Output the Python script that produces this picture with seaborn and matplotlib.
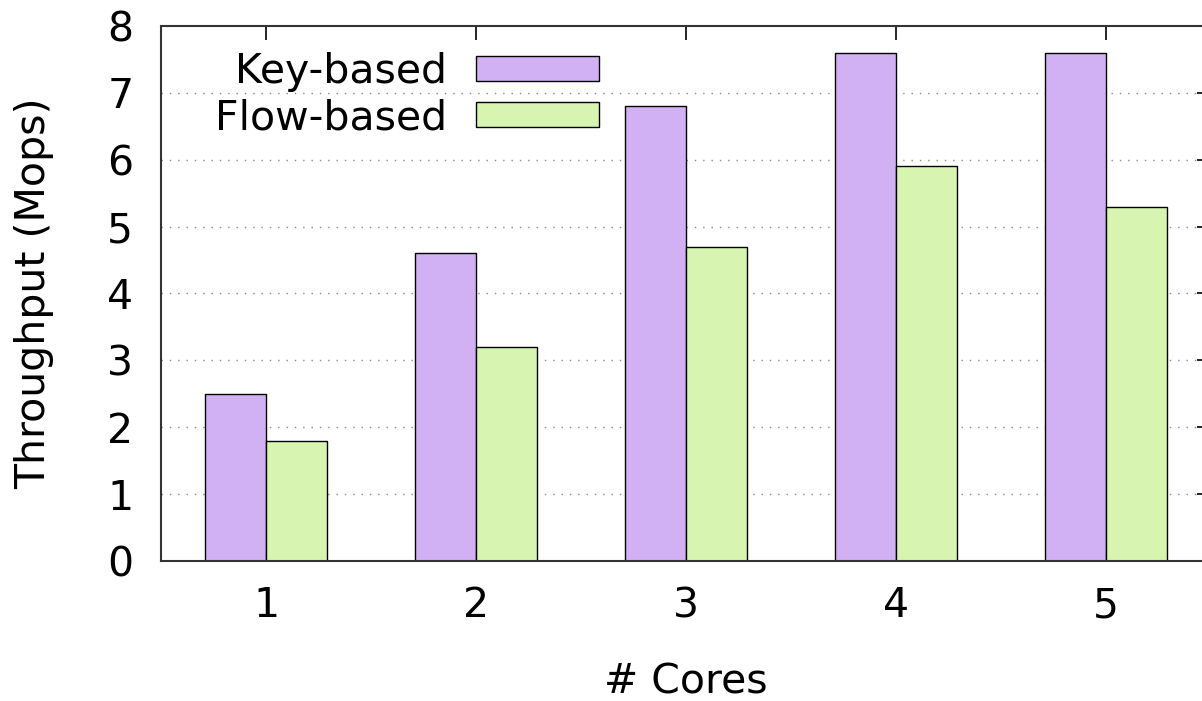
import pandas as pd
import numpy as np
import matplotlib
matplotlib.use("Agg")
import matplotlib.pyplot as plt
import seaborn as sns

# values
cores = ["1", "2", "3", "4", "5"]
key_based = [2.5, 4.6, 6.8, 7.6, 7.6]
flow_based = [1.8, 3.2, 4.7, 5.9, 5.3]
series_names = ["Key-based", "Flow-based"]
y_ticks = [0, 1, 2, 3, 4, 5, 6, 7, 8]

df = pd.DataFrame({
    "cores": cores * 2,
    "throughput": key_based + flow_based,
    "scheme": [series_names[0]] * len(cores) + [series_names[1]] * len(cores),
})

sns.set_style("white")
plt.rcParams["font.family"] = ["DejaVu Sans"]

fig = plt.figure(figsize=(12.02, 7.01), dpi=100)
ax = fig.add_axes([0.134, 0.1997, 0.8735, 0.7633])

sns.barplot(data=df, x="cores", y="throughput", hue="scheme",
            palette=["#d1b1f3", "#d7f5b0"], width=0.58, gap=0,
            edgecolor="black", linewidth=1.0, saturation=1, ax=ax)

ax.set_xlim(-0.5, 4.5)
ax.set_ylim(0, 8)
ax.set_yticks(y_ticks)

# dotted horizontal grid, not at the frame
for v in y_ticks[1:-1]:
    ax.axhline(v, color="#888888", linestyle=(0, (1, 5)), linewidth=1.0, zorder=0)

for s in ax.spines.values():
    s.set_color("#333333")
    s.set_linewidth(1.5)
    s.set_visible(True)

fs = 29.5
ax.tick_params(axis="both", direction="in", labelsize=fs, colors="black",
               length=10, width=1.2)
ax.tick_params(axis="x", top=True, pad=18)
ax.tick_params(axis="y", right=True, pad=20)

ax.set_xlabel("# Cores", fontsize=fs, labelpad=26, color="black")
ax.set_ylabel("Throughput (Mops)", fontsize=fs, labelpad=38, color="black")

handles, labels = ax.get_legend_handles_labels()
ax.legend(handles, labels, loc="upper right", bbox_to_anchor=(0.444, 1.005),
          frameon=False, markerfirst=False, fontsize=fs, handlelength=3.0,
          handleheight=0.55, labelspacing=0.15, handletextpad=0.7, borderpad=0.2,
          labelcolor="black")

plt.savefig("out.png", dpi=100)
